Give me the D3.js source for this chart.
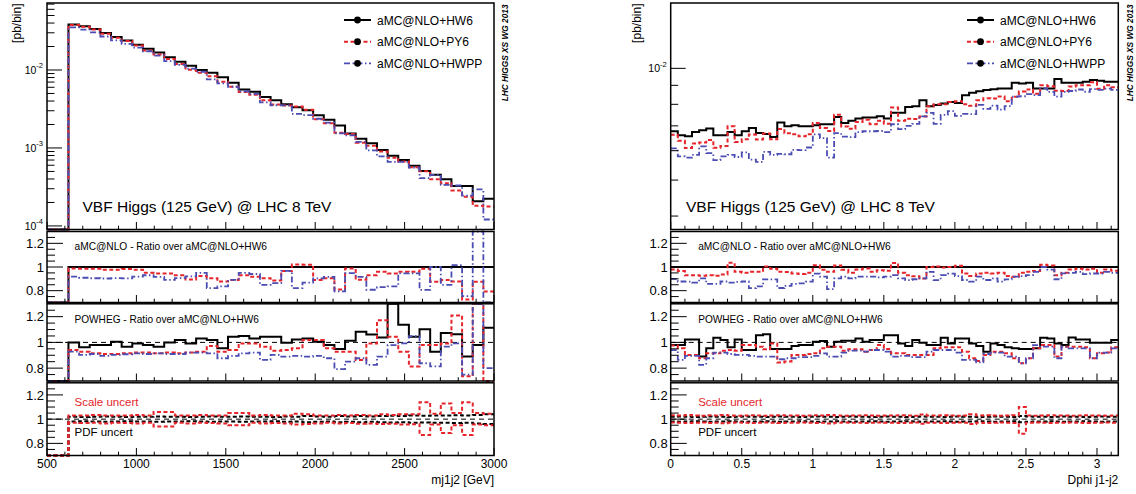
<!DOCTYPE html>
<html>
<head>
<meta charset="utf-8">
<title>VBF Higgs aMC@NLO</title>
<script src="https://cdn.jsdelivr.net/npm/d3@7"></script>
<style>
  body { margin: 0; background: #fff; }
  svg text { font-family: "Liberation Sans", Arial, Helvetica, sans-serif; }
</style>
</head>
<body>
<svg id="chart" width="1136" height="494"></svg>
<script>
// ---------------- datos ----------------
const legendLabels = ['aMC@NLO+HW6', 'aMC@NLO+PY6', 'aMC@NLO+HWPP'];
const massTicks = [500, 1000, 1500, 2000, 2500, 3000];
const dphiTicks = [0, 0.5, 1, 1.5, 2, 2.5, 3];
const ratioTickLabels = [0.8, 1, 1.2];

// mj1j2: 40 bins entre 620 y 3000 GeV (sin sucesos debajo de 620)
const massRange = [620, 3000];
const hw6Mass = [3.82e-2, 3.63e-2, 3.36e-2, 2.98e-2, 2.65e-2, 2.39e-2, 2.11e-2, 1.87e-2, 1.67e-2, 1.46e-2,
  1.28e-2, 1.13e-2, 1.00e-2, 9.2e-3, 8.05e-3, 6.85e-3, 5.62e-3, 5.24e-3, 4.52e-3, 4.09e-3,
  3.63e-3, 3.32e-3, 3.04e-3, 2.62e-3, 2.30e-3, 1.94e-3, 1.53e-3, 1.31e-3, 1.15e-3, 9.4e-4,
  7.95e-4, 7.0e-4, 5.9e-4, 5.08e-4, 4.52e-4, 3.97e-4, 3.25e-4, 3.25e-4, 2.08e-4, 2.23e-4];
const py6Mass = [3.77e-2, 3.58e-2, 3.31e-2, 2.91e-2, 2.59e-2, 2.35e-2, 2.06e-2, 1.78e-2, 1.58e-2, 1.38e-2,
  1.19e-2, 1.01e-2, 9.23e-3, 8.32e-3, 7.06e-3, 6.10e-3, 5.23e-3, 4.81e-3, 4.09e-3, 3.62e-3,
  3.51e-3, 3.39e-3, 3.10e-3, 2.33e-3, 2.08e-3, 1.57e-3, 1.51e-3, 1.17e-3, 1.07e-3, 9.02e-4,
  7.51e-4, 6.72e-4, 5.66e-4, 5.01e-4, 3.96e-4, 3.53e-4, 2.85e-4, 2.36e-4, 1.82e-4, 1.77e-4];
const hwppMass = [3.51e-2, 3.30e-2, 3.04e-2, 2.69e-2, 2.40e-2, 2.16e-2, 1.94e-2, 1.74e-2, 1.53e-2, 1.30e-2,
  1.16e-2, 1.04e-2, 9.5e-3, 7.56e-3, 6.73e-3, 6.10e-3, 5.34e-3, 4.93e-3, 3.84e-3, 3.53e-3,
  3.51e-3, 2.73e-3, 2.64e-3, 2.37e-3, 2.11e-3, 1.54e-3, 1.45e-3, 1.20e-3, 9.29e-4, 7.80e-4,
  6.65e-4, 6.62e-4, 5.58e-4, 4.10e-4, 4.52e-4, 3.37e-4, 3.30e-4, 2.45e-4, 2.95e-4, 1.21e-4];
// POWHEG sobre aMC@NLO+HW6
const powHw6Mass = [1.0, 0.962, 0.979, 0.979, 1.005, 0.967, 0.992, 0.979, 0.967, 1.0,
  1.018, 0.992, 1.031, 1.018, 0.954, 1.044, 1.049, 1.031, 1.044, 1.044,
  0.997, 1.023, 1.031, 1.005, 0.979, 0.949, 1.013, 1.082, 1.062, 1.038,
  1.40, 1.138, 1.044, 1.103, 0.928, 1.074, 1.064, 0.89, 0.979, 1.113];
const powPy6Mass = [0.941, 0.928, 0.915, 0.91, 0.91, 0.915, 0.921, 0.921, 0.915, 0.921,
  0.915, 0.921, 0.928, 0.972, 0.928, 0.941, 0.992, 0.992, 0.967, 0.936,
  0.941, 0.954, 1.018, 1.018, 0.954, 0.928, 0.928, 0.864, 0.992, 1.172,
  1.044, 0.928, 0.813, 0.979, 0.979, 0.992, 1.21, 0.736, 1.40, 0.60];
const powHwppMass = [0.928, 0.903, 0.91, 0.895, 0.903, 0.908, 0.915, 0.91, 0.915, 0.91,
  0.91, 0.921, 0.921, 0.915, 0.877, 0.895, 0.915, 0.921, 0.864, 0.903,
  0.89, 0.895, 0.89, 0.895, 0.877, 0.792, 0.851, 0.877, 0.826, 0.89,
  0.979, 0.992, 1.049, 0.838, 0.813, 0.967, 0.992, 0.749, 1.40, 0.80];
// incertidumbres (escala y PDF)
const scaleUpMass = [1.03, 1.03, 1.035, 1.03, 1.03, 1.03, 1.035, 1.03, 1.06, 1.06,
  1.03, 1.03, 1.035, 1.03, 1.03, 1.05, 1.05, 1.03, 1.035, 1.03,
  1.03, 1.045, 1.04, 1.03, 1.03, 1.035, 1.03, 1.035, 1.03, 1.04,
  1.035, 1.04, 1.04, 1.14, 1.045, 1.13, 1.05, 1.14, 1.05, 1.045];
const scaleDownMass = [0.97, 0.968, 0.97, 0.965, 0.97, 0.968, 0.965, 0.97, 0.94, 0.94,
  0.97, 0.965, 0.97, 0.968, 0.965, 0.95, 0.95, 0.97, 0.965, 0.968,
  0.965, 0.955, 0.96, 0.965, 0.97, 0.965, 0.968, 0.962, 0.965, 0.96,
  0.962, 0.955, 0.958, 0.87, 0.955, 0.885, 0.95, 0.87, 0.955, 0.95];
const pdfUpMass = [1.02, 1.018, 1.02, 1.022, 1.02, 1.018, 1.02, 1.02, 1.022, 1.02,
  1.02, 1.018, 1.02, 1.022, 1.02, 1.02, 1.022, 1.02, 1.02, 1.018,
  1.022, 1.02, 1.025, 1.022, 1.02, 1.025, 1.022, 1.025, 1.022, 1.025,
  1.028, 1.025, 1.03, 1.028, 1.03, 1.03, 1.032, 1.03, 1.035, 1.04];
const pdfDownMass = [0.98, 0.982, 0.98, 0.978, 0.98, 0.982, 0.98, 0.98, 0.978, 0.98,
  0.98, 0.982, 0.98, 0.978, 0.98, 0.98, 0.978, 0.98, 0.98, 0.982,
  0.978, 0.98, 0.975, 0.978, 0.98, 0.975, 0.978, 0.975, 0.978, 0.975,
  0.972, 0.975, 0.97, 0.972, 0.97, 0.97, 0.968, 0.97, 0.965, 0.96];

// Dphi j1-j2: 63 bins de 0.05
const dphiRange = [0, 3.15];
const hw6Dphi = [6.77e-3, 6.60e-3, 6.56e-3, 6.74e-3, 6.81e-3, 6.89e-3, 6.60e-3, 6.60e-3, 6.74e-3, 6.60e-3,
  6.77e-3, 6.91e-3, 6.70e-3, 6.65e-3, 6.53e-3, 7.15e-3, 6.98e-3, 7.03e-3, 6.98e-3, 6.98e-3,
  7.03e-3, 7.07e-3, 7.07e-3, 7.40e-3, 7.13e-3, 7.22e-3, 7.33e-3, 7.37e-3, 7.37e-3, 7.43e-3,
  7.33e-3, 7.59e-3, 7.59e-3, 7.87e-3, 7.91e-3, 8.21e-3, 7.91e-3, 7.97e-3, 8.04e-3, 8.12e-3,
  8.07e-3, 8.47e-3, 8.59e-3, 8.68e-3, 8.74e-3, 8.78e-3, 8.83e-3, 8.83e-3, 9.14e-3, 9.11e-3,
  9.14e-3, 8.83e-3, 8.83e-3, 8.83e-3, 9.36e-3, 9.14e-3, 9.14e-3, 9.14e-3, 9.20e-3, 9.30e-3,
  9.26e-3, 9.20e-3, 9.20e-3];
const py6Dphi = [6.62e-3, 6.38e-3, 6.10e-3, 6.27e-3, 6.31e-3, 6.41e-3, 6.11e-3, 6.18e-3, 6.98e-3, 6.33e-3,
  6.44e-3, 6.63e-3, 6.43e-3, 6.68e-3, 6.44e-3, 6.86e-3, 6.69e-3, 6.64e-3, 6.56e-3, 6.64e-3,
  7.13e-3, 6.91e-3, 6.78e-3, 7.50e-3, 6.97e-3, 6.87e-3, 7.17e-3, 7.27e-3, 7.07e-3, 7.23e-3,
  7.09e-3, 7.84e-3, 7.22e-3, 7.32e-3, 7.30e-3, 7.42e-3, 7.91e-3, 8.01e-3, 8.00e-3, 8.12e-3,
  8.16e-3, 8.00e-3, 7.93e-3, 8.20e-3, 8.31e-3, 8.30e-3, 8.40e-3, 8.15e-3, 8.39e-3, 8.66e-3,
  8.77e-3, 8.54e-3, 9.00e-3, 8.95e-3, 8.70e-3, 8.69e-3, 8.94e-3, 9.01e-3, 9.00e-3, 9.17e-3,
  8.81e-3, 9.00e-3, 8.90e-3];
const hwppDphi = [6.09e-3, 5.79e-3, 5.75e-3, 5.85e-3, 6.16e-3, 5.91e-3, 5.66e-3, 5.79e-3, 5.85e-3, 5.77e-3,
  5.94e-3, 5.68e-3, 5.60e-3, 5.96e-3, 5.85e-3, 5.88e-3, 5.87e-3, 6.03e-3, 6.02e-3, 6.12e-3,
  6.64e-3, 6.49e-3, 5.75e-3, 6.69e-3, 6.55e-3, 6.53e-3, 6.73e-3, 6.77e-3, 6.77e-3, 6.78e-3,
  6.73e-3, 7.07e-3, 6.86e-3, 7.00e-3, 7.09e-3, 7.42e-3, 7.59e-3, 7.09e-3, 7.49e-3, 7.67e-3,
  7.45e-3, 7.54e-3, 7.53e-3, 7.97e-3, 7.78e-3, 7.94e-3, 7.74e-3, 7.91e-3, 8.39e-3, 8.41e-3,
  8.52e-3, 8.47e-3, 8.83e-3, 8.64e-3, 8.39e-3, 8.64e-3, 8.69e-3, 8.77e-3, 8.65e-3, 8.79e-3,
  8.75e-3, 8.82e-3, 8.75e-3];
const powHw6Dphi = [0.98, 0.98, 1.023, 1.023, 0.89, 0.954, 1.036, 1.018, 0.962, 1.023,
  0.941, 0.941, 1.056, 1.064, 0.949, 0.949, 0.949, 0.972, 0.98, 0.98,
  1.005, 1.01, 0.967, 1.005, 1.013, 1.013, 1.031, 1.005, 1.018, 1.018,
  1.056, 1.056, 0.992, 0.972, 1.018, 0.997, 0.98, 0.98, 1.036, 0.992,
  1.031, 1.031, 0.992, 0.972, 0.928, 0.992, 0.98, 0.962, 0.954, 0.949,
  0.949, 0.954, 1.036, 1.031, 0.992, 0.98, 1.038, 1.023, 1.023, 0.997,
  0.997, 0.997, 1.018];
const powPy6Dphi = [0.975, 0.954, 0.903, 0.903, 0.877, 0.915, 0.915, 0.936, 0.941, 0.936,
  0.979, 0.979, 0.967, 0.946, 0.992, 0.844, 0.851, 0.903, 0.903, 0.91,
  0.915, 0.954, 0.967, 0.967, 0.936, 0.946, 0.946, 0.928, 0.941, 0.979,
  0.949, 0.915, 0.915, 0.903, 0.903, 0.903, 0.903, 0.954, 0.962, 0.962,
  0.962, 0.928, 0.877, 0.856, 0.903, 0.928, 0.928, 0.915, 0.877, 0.838,
  0.877, 0.954, 0.979, 0.979, 0.89, 0.967, 0.967, 0.967, 0.962, 0.877,
  0.915, 0.921, 0.962];
const powHwppDphi = [0.94, 0.864, 0.895, 0.895, 0.826, 0.877, 0.921, 0.921, 0.91, 0.903,
  0.903, 0.895, 0.89, 0.89, 0.89, 0.869, 0.877, 0.877, 0.885, 0.885,
  0.895, 0.915, 0.89, 0.89, 0.921, 0.936, 0.936, 0.928, 0.941, 0.941,
  0.928, 0.89, 0.895, 0.895, 0.885, 0.885, 0.928, 0.941, 0.941, 0.941,
  0.921, 0.864, 0.864, 0.844, 0.91, 0.921, 0.921, 0.89, 0.89, 0.838,
  0.877, 0.979, 0.967, 0.967, 0.877, 0.967, 0.954, 0.954, 0.954, 0.877,
  0.921, 0.921, 0.954];
const scaleUpDphi = [1.032, 1.03, 1.035, 1.03, 1.028, 1.032, 1.03, 1.035, 1.03, 1.028,
  1.03, 1.032, 1.03, 1.028, 1.03, 1.032, 1.03, 1.03, 1.028, 1.03,
  1.032, 1.03, 1.035, 1.03, 1.028, 1.03, 1.03, 1.032, 1.03, 1.028,
  1.03, 1.03, 1.032, 1.03, 1.028, 1.038, 1.03, 1.03, 1.032, 1.03,
  1.028, 1.03, 1.04, 1.03, 1.032, 1.03, 1.028, 1.03, 1.032, 1.10,
  1.03, 1.028, 1.03, 1.032, 1.03, 1.03, 1.028, 1.03, 1.032, 1.03,
  1.03, 1.028, 1.03];
const scaleDownDphi = [0.972, 0.97, 0.968, 0.97, 0.972, 0.968, 0.97, 0.966, 0.97, 0.972,
  0.97, 0.968, 0.97, 0.972, 0.97, 0.968, 0.97, 0.97, 0.972, 0.97,
  0.968, 0.97, 0.965, 0.97, 0.972, 0.97, 0.97, 0.968, 0.97, 0.972,
  0.97, 0.97, 0.968, 0.97, 0.972, 0.962, 0.97, 0.97, 0.968, 0.97,
  0.972, 0.97, 0.96, 0.97, 0.968, 0.97, 0.972, 0.97, 0.968, 0.88,
  0.97, 0.972, 0.97, 0.968, 0.97, 0.97, 0.972, 0.97, 0.968, 0.97,
  0.97, 0.972, 0.97];
const pdfUpDphi = [1.02, 1.022, 1.02, 1.018, 1.02, 1.022, 1.02, 1.02, 1.018, 1.02,
  1.022, 1.02, 1.02, 1.018, 1.02, 1.022, 1.02, 1.02, 1.018, 1.02,
  1.022, 1.02, 1.02, 1.018, 1.02, 1.022, 1.02, 1.02, 1.018, 1.02,
  1.022, 1.02, 1.02, 1.018, 1.02, 1.022, 1.02, 1.02, 1.018, 1.02,
  1.022, 1.02, 1.02, 1.018, 1.02, 1.022, 1.02, 1.02, 1.018, 1.025,
  1.022, 1.02, 1.02, 1.018, 1.02, 1.022, 1.02, 1.02, 1.018, 1.02,
  1.022, 1.02, 1.02];
const pdfDownDphi = [0.98, 0.978, 0.98, 0.982, 0.98, 0.978, 0.98, 0.98, 0.982, 0.98,
  0.978, 0.98, 0.98, 0.982, 0.98, 0.978, 0.98, 0.98, 0.982, 0.98,
  0.978, 0.98, 0.98, 0.982, 0.98, 0.978, 0.98, 0.98, 0.982, 0.98,
  0.978, 0.98, 0.98, 0.982, 0.98, 0.978, 0.98, 0.98, 0.982, 0.98,
  0.978, 0.98, 0.98, 0.982, 0.98, 0.978, 0.98, 0.98, 0.982, 0.975,
  0.978, 0.98, 0.98, 0.982, 0.98, 0.978, 0.98, 0.98, 0.982, 0.98,
  0.978, 0.98, 0.98];

// ---------------- estilo y maquetacion ----------------
const svg = d3.select('#chart');
const RED = '#e5252b';
const BLUE = '#4b4db3';
const styleHw6 = { color: '#000', width: 2, dash: null };
const stylePy6 = { color: RED, width: 2, dash: '4,2.5' };
const styleHwpp = { color: BLUE, width: 1.8, dash: '6,2.5,1.5,2.5' };
const styleScale = { color: RED, width: 2, dash: '4,2.5' };
const stylePdf = { color: '#000', width: 2, dash: '4,2.5' };

const rows = {
    top: { y0: 3, y1: 229.5 },
    r1: { y0: 231.5, y1: 302.5 },
    r2: { y0: 303.8, y1: 381 },
    r3: { y0: 382.8, y1: 455.5 }
};

/**
 * Devuelve los bordes de bin equiespaciados.
 */
function binEdges(range, n) {
    return d3.range(n + 1).map(i => range[0] + i * (range[1] - range[0]) / n);
}

/**
 * Escala lineal de un panel de cocientes (0.7 - 1.3).
 */
function ratioScale(row) {
    return d3.scaleLinear().domain([0.7, 1.3]).range([row.y1, row.y0]).clamp(true);
}

/**
 * Dibuja un histograma como linea escalonada.
 */
function drawStep(g, edges, values, x, yOf, style, zeroFrom) {
    const pts = edges.map((e, i) => [e, values[Math.min(i, values.length - 1)]]);
    if (zeroFrom !== undefined) pts.unshift([zeroFrom, 0]);
    const line = d3.line().x(p => x(p[0])).y(p => yOf(p[1])).curve(d3.curveStepAfter);
    g.append('path')
        .attr('d', line(pts))
        .attr('fill', 'none')
        .attr('stroke', style.color)
        .attr('stroke-width', style.width)
        .attr('stroke-dasharray', style.dash)
        .attr('stroke-linejoin', 'miter');
}

/**
 * Marcas del eje x en el borde inferior de un panel.
 */
function drawXTicks(g, x, yBottom, majors, minorStep) {
    const [d0, d1] = x.domain();
    const n = Math.round((d1 - d0) / minorStep);
    for (let i = 0; i <= n; i++) {
        const v = d0 + i * minorStep;
        const isMajor = majors.some(m => Math.abs(m - v) < minorStep / 10);
        g.append('line')
            .attr('x1', x(v)).attr('x2', x(v))
            .attr('y1', yBottom).attr('y2', yBottom - (isMajor ? 7.5 : 3.8))
            .attr('stroke', '#000').attr('stroke-width', 1);
    }
}

/**
 * Marcas y etiquetas de un panel de cocientes.
 */
function drawRatioAxis(g, y, x0) {
    for (let k = 15; k <= 25; k++) {
        const v = k * 0.05;
        const isMajor = k % 4 === 0;
        g.append('line')
            .attr('x1', x0).attr('x2', x0 + (isMajor ? 16 : 8))
            .attr('y1', y(v)).attr('y2', y(v))
            .attr('stroke', '#000').attr('stroke-width', 1);
    }
    ratioTickLabels.forEach(v => {
        g.append('text')
            .attr('x', x0 - 3).attr('y', y(v) + 4.6)
            .attr('text-anchor', 'end')
            .attr('font-size', 13)
            .text(v);
    });
}

/**
 * Marcas y etiquetas del eje y logaritmico.
 */
function drawLogAxis(g, y, x0) {
    const [lo, hi] = y.domain();
    for (let e = -6; e <= 0; e++) {
        for (let k = 1; k <= 9; k++) {
            const v = k * Math.pow(10, e);
            if (v < lo || v > hi) continue;
            g.append('line')
                .attr('x1', x0).attr('x2', x0 + (k === 1 ? 15 : 7.5))
                .attr('y1', y(v)).attr('y2', y(v))
                .attr('stroke', '#000').attr('stroke-width', 1);
            if (k === 1) {
                const t = g.append('text')
                    .attr('x', x0 - 4).attr('y', y(v) + 4)
                    .attr('text-anchor', 'end')
                    .attr('font-size', 10.5);
                t.append('tspan').text('10');
                t.append('tspan').attr('dy', -5.5).attr('font-size', 7.5).text(String(e));
            }
        }
    }
}

/**
 * Dibuja una de las dos figuras (cuatro paneles).
 */
function drawFigure(cfg) {
    const g = svg.append('g');
    const x = d3.scaleLinear().domain(cfg.xDomain).range([cfg.x0, cfg.x1]);
    const edges = binEdges(cfg.binRange, cfg.hw6.length);

    // panel principal
    const yTop = d3.scaleLog().domain(cfg.yLog).range([rows.top.y1, rows.top.y0]);
    const yTopOf = v => v > 0 ? Math.max(rows.top.y0, Math.min(rows.top.y1, yTop(v))) : rows.top.y1;
    drawStep(g, edges, cfg.hw6, x, yTopOf, styleHw6, cfg.zeroFrom);
    drawStep(g, edges, cfg.py6, x, yTopOf, stylePy6, cfg.zeroFrom);
    drawStep(g, edges, cfg.hwpp, x, yTopOf, styleHwpp, cfg.zeroFrom);

    // panel 1: cocientes aMC@NLO
    const y1 = ratioScale(rows.r1);
    const over = arr => arr.map((v, i) => v / cfg.hw6[i]);
    drawStep(g, edges, over(cfg.hw6), x, y1, styleHw6, cfg.zeroFrom);
    drawStep(g, edges, over(cfg.py6), x, y1, stylePy6, cfg.zeroFrom);
    drawStep(g, edges, over(cfg.hwpp), x, y1, styleHwpp, cfg.zeroFrom);

    // panel 2: POWHEG
    const y2 = ratioScale(rows.r2);
    g.append('line')
        .attr('x1', cfg.x0).attr('x2', cfg.x1).attr('y1', y2(1)).attr('y2', y2(1))
        .attr('stroke', '#000').attr('stroke-width', 1).attr('stroke-dasharray', '5,4');
    drawStep(g, edges, cfg.powHw6, x, y2, styleHw6, cfg.zeroFrom);
    drawStep(g, edges, cfg.powPy6, x, y2, stylePy6, cfg.zeroFrom);
    drawStep(g, edges, cfg.powHwpp, x, y2, styleHwpp, cfg.zeroFrom);

    // panel 3: incertidumbres
    const y3 = ratioScale(rows.r3);
    g.append('line')
        .attr('x1', cfg.x0).attr('x2', cfg.x1).attr('y1', y3(1)).attr('y2', y3(1))
        .attr('stroke', '#000').attr('stroke-width', 1).attr('stroke-dasharray', '5,4');
    drawStep(g, edges, cfg.pdfUp, x, y3, stylePdf, cfg.zeroFrom);
    drawStep(g, edges, cfg.pdfDown, x, y3, stylePdf, cfg.zeroFrom);
    drawStep(g, edges, cfg.scaleUp, x, y3, styleScale, cfg.zeroFrom);
    drawStep(g, edges, cfg.scaleDown, x, y3, styleScale, cfg.zeroFrom);

    // ejes y marcos
    drawLogAxis(g, yTop, cfg.x0);
    [y1, y2, y3].forEach(y => drawRatioAxis(g, y, cfg.x0));
    Object.values(rows).forEach(r => {
        drawXTicks(g, x, r.y1, cfg.xTicks, cfg.minorStep);
        g.append('rect')
            .attr('x', cfg.x0).attr('y', r.y0)
            .attr('width', cfg.x1 - cfg.x0).attr('height', r.y1 - r.y0)
            .attr('fill', 'none').attr('stroke', '#000').attr('stroke-width', 1.5);
    });
    cfg.xTicks.forEach(v => {
        g.append('text')
            .attr('x', x(v)).attr('y', 467.8)
            .attr('text-anchor', 'middle').attr('font-size', 12)
            .text(v);
    });
    g.append('text')
        .attr('x', cfg.x1).attr('y', 483.5)
        .attr('text-anchor', 'end').attr('font-size', 12)
        .text(cfg.xLabel);
    g.append('text')
        .attr('transform', `translate(${cfg.yTitleX},3.5) rotate(-90)`)
        .attr('text-anchor', 'end').attr('font-size', 12)
        .text('[pb/bin]');
    g.append('text')
        .attr('transform', `translate(${cfg.x1 + 14.3},4.5) rotate(-90)`)
        .attr('text-anchor', 'end').attr('font-size', 8.3)
        .attr('font-weight', 'bold').attr('font-style', 'italic')
        .text('LHC HIGGS XS WG 2013');

    // textos
    const tx = cfg.x0 + 27.5;
    g.append('text').attr('x', cfg.titleX).attr('y', 211.5).attr('font-size', 15.5)
        .text('VBF Higgs (125 GeV) @ LHC 8 TeV');
    g.append('text').attr('x', tx).attr('y', 250).attr('font-size', 10.2)
        .text('aMC@NLO - Ratio over aMC@NLO+HW6');
    g.append('text').attr('x', tx).attr('y', 323.3).attr('font-size', 10.1)
        .text('POWHEG - Ratio over aMC@NLO+HW6');
    g.append('text').attr('x', tx).attr('y', 406).attr('font-size', 11.5).attr('fill', RED)
        .text('Scale uncert');
    g.append('text').attr('x', tx).attr('y', 436).attr('font-size', 11.5)
        .text('PDF uncert');

    // leyenda
    const legendY = [20, 41.7, 63.3];
    [styleHw6, stylePy6, styleHwpp].forEach((s, i) => {
        g.append('line')
            .attr('x1', cfg.legendX).attr('x2', cfg.legendX + 27)
            .attr('y1', legendY[i]).attr('y2', legendY[i])
            .attr('stroke', s.color).attr('stroke-width', s.width)
            .attr('stroke-dasharray', s.dash);
        g.append('circle')
            .attr('cx', cfg.legendX + 13.5).attr('cy', legendY[i]).attr('r', 3.4)
            .attr('fill', '#000');
        g.append('text')
            .attr('x', cfg.legendX + 33).attr('y', legendY[i] + 4.5)
            .attr('font-size', 12)
            .text(legendLabels[i]);
    });
}

drawFigure({
    x0: 47, x1: 494, xDomain: [500, 3000], xTicks: massTicks, minorStep: 100,
    binRange: massRange, zeroFrom: 500, xLabel: 'mj1j2 [GeV]',
    yLog: [9.0e-5, 7.23e-2], legendX: 344, titleX: 82.5, yTitleX: 20.5,
    hw6: hw6Mass, py6: py6Mass, hwpp: hwppMass,
    powHw6: powHw6Mass, powPy6: powPy6Mass, powHwpp: powHwppMass,
    scaleUp: scaleUpMass, scaleDown: scaleDownMass, pdfUp: pdfUpMass, pdfDown: pdfDownMass
});

drawFigure({
    x0: 670.7, x1: 1118.3, xDomain: [0, 3.15], xTicks: dphiTicks, minorStep: 0.1,
    binRange: dphiRange, xLabel: 'Dphi j1-j2',
    yLog: [3.68e-3, 1.5e-2], legendX: 967, titleX: 686, yTitleX: 641,
    hw6: hw6Dphi, py6: py6Dphi, hwpp: hwppDphi,
    powHw6: powHw6Dphi, powPy6: powPy6Dphi, powHwpp: powHwppDphi,
    scaleUp: scaleUpDphi, scaleDown: scaleDownDphi, pdfUp: pdfUpDphi, pdfDown: pdfDownDphi
});
</script>
</body>
</html>
